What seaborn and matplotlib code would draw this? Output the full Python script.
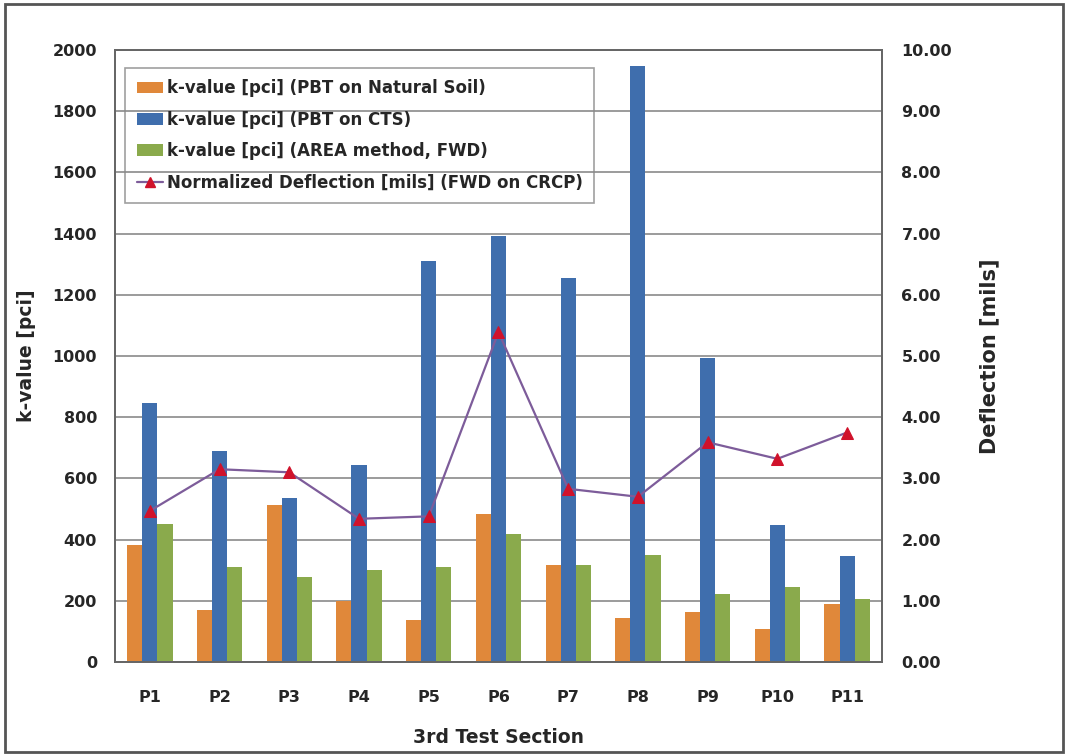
import numpy as np
import pandas as pd
import seaborn as sns
import matplotlib.pyplot as plt
from matplotlib.patches import Patch, Rectangle
from matplotlib.lines import Line2D
from matplotlib.ticker import FormatStrFormatter

# dati
sezioni = ["P1", "P2", "P3", "P4", "P5", "P6", "P7", "P8", "P9", "P10", "P11"]
k_natural = [383, 170, 512, 200, 138, 483, 317, 145, 163, 108, 190]
k_cts = [847, 690, 537, 645, 1312, 1392, 1255, 1947, 993, 448, 348]
k_area = [452, 310, 277, 300, 310, 418, 317, 350, 222, 245, 205]
deflessione = [2.47, 3.15, 3.10, 2.34, 2.38, 5.39, 2.83, 2.70, 3.59, 3.32, 3.75]

nomi_serie = ["k-value [pci] (PBT on Natural Soil)",
              "k-value [pci] (PBT on CTS)",
              "k-value [pci] (AREA method, FWD)"]
nome_linea = "Normalized Deflection [mils] (FWD on CRCP)"
colori = ["#E0883A", "#3F6EAD", "#8AAA4C"]
colore_linea = "#7D5C9A"
colore_marker = "#D0122B"

df = pd.DataFrame({
    "Sezione": sezioni * 3,
    "k": k_natural + k_cts + k_area,
    "Serie": [nomi_serie[0]] * 11 + [nomi_serie[1]] * 11 + [nomi_serie[2]] * 11,
})

sns.set_style("white")
plt.rcParams["font.family"] = ["DejaVu Sans"]

fig = plt.figure(figsize=(10.68, 7.56), dpi=100)
ax = fig.add_axes([0.1077, 0.1243, 0.7181, 0.8096])

sns.barplot(data=df, x="Sezione", y="k", hue="Serie", palette=colori,
            width=0.65, saturation=1, ax=ax, legend=False, zorder=2,
            edgecolor="none", linewidth=0)

ax.set_ylim(0, 2000)
ax.set_yticks(range(0, 2001, 200))
ax.yaxis.grid(True, color="#8a8a8a", linewidth=1.2, zorder=0)
ax.set_axisbelow(True)
ax.set_xlim(-0.5, 10.5)
ax.set_xlabel("3rd Test Section", fontsize=13.5, fontweight="bold", labelpad=17)
ax.set_ylabel("k-value [pci]", fontsize=13.5, fontweight="bold", labelpad=12)
ax.tick_params(axis="y", labelsize=11.5, length=0, pad=13)
ax.tick_params(axis="x", labelsize=11.5, length=0, pad=20)
for t in ax.get_xticklabels() + ax.get_yticklabels():
    t.set_fontweight("bold")
ax.set_xticks(np.arange(0.5, 10, 1), minor=True)
ax.tick_params(axis="x", which="minor", direction="in", length=5, color="#777777")
for s in ax.spines.values():
    s.set_color("#666666")
    s.set_linewidth(1.3)

ax2 = ax.twinx()
sns.lineplot(x=np.arange(len(sezioni)), y=deflessione, ax=ax2, color=colore_linea,
             linewidth=1.6, marker="^", markersize=8, markerfacecolor=colore_marker,
             markeredgecolor=colore_marker, zorder=5)
ax2.set_ylim(0, 10)
ax2.set_yticks(range(0, 11))
ax2.yaxis.set_major_formatter(FormatStrFormatter("%.2f"))
ax2.tick_params(axis="y", labelsize=11.5, length=0, pad=14)
for t in ax2.get_yticklabels():
    t.set_fontweight("bold")
ax2.set_ylabel("Deflection [mils]", fontsize=15, fontweight="bold", labelpad=20)
ax2.grid(False)
for s in ax2.spines.values():
    s.set_color("#666666")
    s.set_linewidth(1.3)

handles = [Patch(facecolor=c, edgecolor="none") for c in colori]
handles.append(Line2D([], [], color=colore_linea, linewidth=1.6, marker="^",
                      markersize=7, markerfacecolor=colore_marker,
                      markeredgecolor=colore_marker))
leg = ax2.legend(handles, nomi_serie + [nome_linea], loc="upper left",
                 bbox_to_anchor=(0.013, 0.971), borderaxespad=0,
                 prop={"size": 12, "weight": "bold"},
                 handlelength=1.6, handletextpad=0.2, labelspacing=0.8,
                 borderpad=0.7, fancybox=False, edgecolor="#888888")
leg.get_frame().set_facecolor("none")
leg.get_frame().set_linewidth(1.2)

# cornice esterna
fig.patches.append(Rectangle((0.005, 0.005), 0.99, 0.99, transform=fig.transFigure,
                             fill=False, edgecolor="#555555", linewidth=2))

fig.savefig("out.png", dpi=100)
